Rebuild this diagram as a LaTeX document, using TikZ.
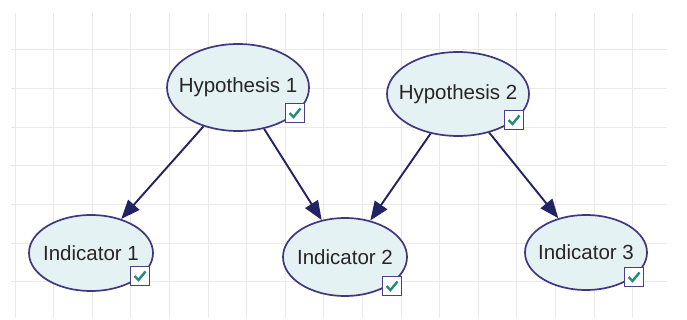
\documentclass[tikz,border=0pt]{standalone}
\usepackage{fontspec}
\setmainfont{Liberation Sans}
\usepackage{tikz}
\usetikzlibrary{calc,arrows.meta,shapes.geometric}

\definecolor{nodefill}{HTML}{E4F2F4}
\definecolor{nodeline}{HTML}{41377F}
\definecolor{nodetext}{HTML}{2A2424}
\definecolor{arcline}{HTML}{222266}
\definecolor{boxline}{HTML}{4B3D8A}
\definecolor{tickcol}{HTML}{1F8C80}
\definecolor{gridcol}{HTML}{EAEAEA}

\newcommand{\ntext}[1]{\makebox[0pt]{#1}}

\begin{document}
\begin{tikzpicture}[x=1pt,y=-1pt,
		bnode/.style={ellipse,draw=nodeline,fill=nodefill,line width=1.7pt,inner sep=0pt,text=nodetext,font=\fontsize{20.5}{23}\selectfont},
		chkbox/.style={draw=boxline,fill=white,line width=1.4pt,minimum size=19pt,inner sep=0pt},
		tick/.style={draw=tickcol,line width=2.4pt},
		link/.style={draw=arcline,line width=1.9pt,-{Triangle[length=19pt,width=15pt]}},
		gridline/.style={draw=gridcol,line width=1pt}]
			\fill[white] (0,0) rectangle (687,320);
			
			\foreach \i in {0,1, ...,16}{
				\draw[gridline] ({15 + 38.6*\i},13) -- ({15 + 38.6*\i},318);
			}
			\foreach \j in {0,1, ...,6}{
				\draw[gridline] (11,{50 + 38.6*\j}) -- (667,{50 + 38.6*\j});
			}
			
			\node[bnode,minimum width=142pt,minimum height=87pt] (h1) at (238,87.5) {\ntext{Hypothesis 1}};
			\node[bnode,minimum width=142pt,minimum height=84pt] (h2) at (458,94) {\ntext{Hypothesis 2}};
			\node[bnode,minimum width=124pt,minimum height=76pt] (i1) at (91,253) {\ntext{Indicator 1}};
			\node[bnode,minimum width=124pt,minimum height=78pt] (i2) at (345,257) {\ntext{Indicator 2}};
			\node[bnode,minimum width=122pt,minimum height=75pt] (i3) at (586,252.5) {\ntext{Indicator 3}};
			
			\node[chkbox] (h1box) at ([shift={(57,25.5)}]h1.center) {};
			\node[chkbox] (h2box) at ([shift={(56,26)}]h2.center) {};
			\node[chkbox] (i1box) at ([shift={(49,23)}]i1.center) {};
			\node[chkbox] (i2box) at ([shift={(47,29)}]i2.center) {};
			\node[chkbox] (i3box) at ([shift={(48,24.5)}]i3.center) {};
			
			\foreach \b in {h1box,h2box,i1box,i2box,i3box}{
				\draw[tick] ([shift={(-5.5,0)}]\b.center) -- ([shift={(-1.5,4)}]\b.center) -- ([shift={(5.5,-4.5)}]\b.center);
			}
			
			\draw[link] (h1) -- (i1);
			\draw[link] (h1) -- (i2);
			\draw[link] (h2) -- (i2);
			\draw[link] (h2) -- (i3);
		\end{tikzpicture}
\end{document}
